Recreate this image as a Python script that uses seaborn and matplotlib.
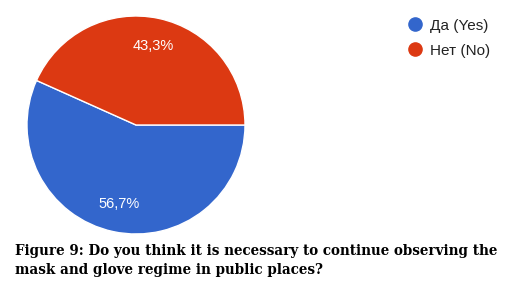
import matplotlib
matplotlib.use("Agg")
import matplotlib.pyplot as plt
from matplotlib.lines import Line2D
import seaborn as sns

labels = ["Да (Yes)", "Нет (No)"]
shares = [56.7, 43.3]
colours = ["#3366CC", "#DC3912"]
caption_1 = "Figure 9: Do you think it is necessary to continue observing the"
caption_2 = "mask and glove regime in public places?"

sns.set_theme(style="white")
plt.rcParams["font.family"] = ["Liberation Sans", "DejaVu Sans"]

fig = plt.figure(figsize=(5.15, 2.91), dpi=100)
ax = fig.add_axes([27 / 515, 57 / 291, 218 / 515, 218 / 291])

wedges, _, autotexts = ax.pie(
    shares, colors=colours, startangle=0, counterclock=False,
    autopct=lambda p: f"{p:.1f}%".replace(".", ","), pctdistance=0.74,
    wedgeprops=dict(edgecolor="white", linewidth=1),
    textprops=dict(color="white", fontsize=10.5),
)
ax.set_xlim(-1, 1)
ax.set_ylim(-1, 1)
ax.set_aspect("equal")
ax.axis("off")

handles = [
    Line2D([0], [0], marker="o", linestyle="", markersize=9.5,
           markerfacecolor=c, markeredgecolor=c)
    for c in colours
]
fig.legend(
    handles, labels, loc="upper left", bbox_to_anchor=(394 / 515, 1 - 5 / 291),
    frameon=False, fontsize=11, handlelength=1.0, handletextpad=0.45,
    labelspacing=0.72, labelcolor="#222222",
)

fig.text(15 / 515, 1 - 251 / 291, caption_1, fontsize=9.72, fontweight="bold",
         family="DejaVu Serif", va="center", ha="left", color="black")
fig.text(15 / 515, 1 - 270 / 291, caption_2, fontsize=9.72, fontweight="bold",
         family="DejaVu Serif", va="center", ha="left", color="black")

fig.savefig("out.png", dpi=100)
